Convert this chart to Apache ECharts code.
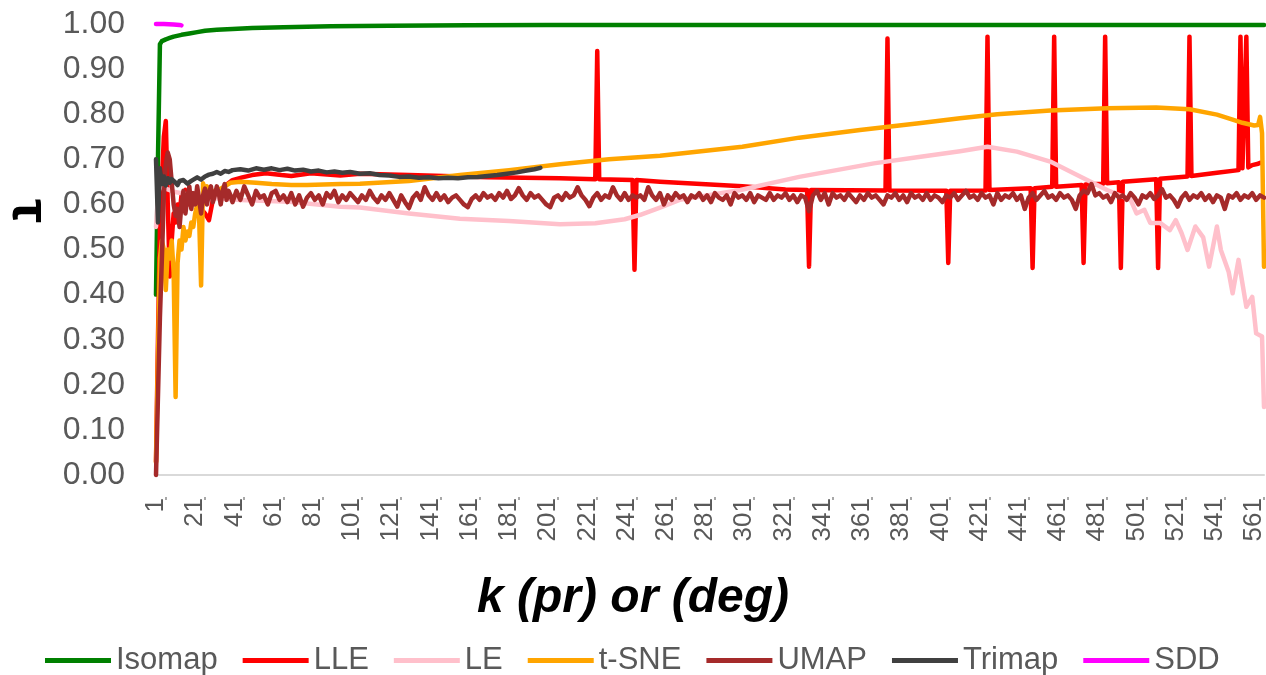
<!DOCTYPE html>
<html>
<head>
<meta charset="utf-8">
<script src="https://cdn.jsdelivr.net/npm/echarts@6/dist/echarts.min.js"></script>
<style>
html,body{margin:0;padding:0;background:#fff;}
#chart{width:1266px;height:675px;}
</style>
</head>
<body>
<div id="chart"></div>
<script>
// ---------- DATA ----------
const kCount = 566;
const categories = [];
for (let k = 1; k <= kCount; k++) categories.push(String(k));

const yTicks = [0, 0.1, 0.2, 0.3, 0.4, 0.5, 0.6, 0.7, 0.8, 0.9, 1.0];
const seriesNames = ['Isomap', 'LLE', 'LE', 't-SNE', 'UMAP', 'Trimap', 'SDD'];
const seriesColors = ['#008000', '#ff0000', '#ffc0cb', '#ffa500', '#a52a2a', '#404040', '#ff00ff'];

// [k, tau]
const isomap = [[1,0.40],[2,0.70],[3,0.955],[4,0.962],[6,0.966],[8,0.969],[10,0.972],[14,0.976],[18,0.979],
  [22,0.982],[26,0.985],[32,0.987],[40,0.989],[50,0.991],[66,0.993],[90,0.995],[120,0.996],[160,0.997],[200,0.998],[566,0.998]];

const lle = [[1,0.03],[2,0.30],[3,0.55],[4,0.65],[5,0.75],[6,0.785],[7,0.60],[8,0.44],[9,0.52],[10,0.58],[11,0.56],
  [12,0.60],[13,0.58],[14,0.62],[16,0.632],[18,0.60],[20,0.61],[22,0.60],[24,0.59],[26,0.58],[28,0.565],[30,0.61],
  [33,0.625],[36,0.64],[40,0.654],[45,0.66],[50,0.665],[57,0.669],[65,0.665],[70,0.663],[80,0.669],[95,0.664],
  [105,0.668],[130,0.665],[170,0.66],[207,0.658],[225,0.656],[226,0.94],[227,0.656],[244,0.654],[245,0.455],
  [246,0.654],[258,0.65],[300,0.64],[322,0.633],[333,0.632],[334,0.462],[335,0.632],[373,0.631],[374,0.968],
  [375,0.631],[404,0.630],[405,0.47],[406,0.630],[424,0.631],[425,0.972],[426,0.632],[447,0.636],[448,0.459],
  [449,0.636],[458,0.639],[459,0.972],[460,0.639],[473,0.643],[474,0.47],[475,0.644],[484,0.646],[485,0.972],
  [486,0.647],[492,0.649],[493,0.459],[494,0.650],[511,0.656],[512,0.459],[513,0.657],[527,0.662],[528,0.972],
  [529,0.663],[542,0.670],[553,0.676],[554,0.972],[555,0.68],[556,0.68],[557,0.972],[558,0.682],[560,0.687],
  [563,0.690],[564,0.692]];

const le = [[1,0.55],[2,0.62],[3,0.64],[6,0.635],[10,0.628],[20,0.62],[30,0.614],[44,0.61],[69,0.606],[95,0.595],
  [105,0.593],[130,0.580],[156,0.568],[181,0.563],[207,0.556],[225,0.558],[240,0.567],[248,0.577],[258,0.593],
  [268,0.61],[299,0.632],[329,0.661],[367,0.691],[390,0.705],[411,0.718],[425,0.728],[440,0.717],[457,0.695],
  [474,0.658],[486,0.632],[498,0.61],[501,0.58],[505,0.588],[508,0.559],[513,0.559],[518,0.543],[521,0.565],
  [524,0.536],[527,0.499],[531,0.551],[535,0.527],[538,0.462],[542,0.551],[544,0.499],[548,0.45],[550,0.403],
  [553,0.477],[557,0.373],[560,0.395],[562,0.314],[565,0.307],[566,0.151]];

const tsne = [[1,0.027],[2,0.26],[3,0.48],[4,0.52],[5,0.50],[6,0.41],[7,0.50],[8,0.48],[9,0.52],[10,0.45],
  [11,0.173],[12,0.47],[13,0.52],[14,0.50],[15,0.55],[16,0.52],[17,0.54],[18,0.53],[19,0.56],[20,0.55],[21,0.58],
  [22,0.60],[23,0.57],[24,0.42],[25,0.647],[26,0.63],[27,0.64],[28,0.62],[29,0.617],[30,0.63],[32,0.625],
  [34,0.635],[36,0.64],[39,0.648],[44,0.65],[52,0.648],[60,0.645],[70,0.643],[78,0.643],[95,0.645],[105,0.646],
  [130,0.652],[156,0.665],[181,0.676],[207,0.689],[232,0.70],[258,0.708],[300,0.728],[329,0.748],[360,0.765],
  [390,0.78],[411,0.791],[430,0.80],[457,0.808],[486,0.813],[511,0.815],[528,0.811],[542,0.799],[550,0.788],
  [555,0.781],[561,0.775],[563,0.776],[564,0.794],[565,0.758],[566,0.462]];

const umapHead = [[1,0],[2,0],[3,0.35],[4,0.48],[5,0.62],[6,0.69],[7,0.715],[8,0.70],[9,0.65],[10,0.60],
  [11,0.575],[12,0.59],[13,0.55],[14,0.60],[15,0.63],[16,0.58],[17,0.615],[18,0.64],[19,0.59],[20,0.625],
  [21,0.60],[22,0.64],[23,0.61],[24,0.58],[25,0.62],[26,0.635],[27,0.60],[28,0.625],[29,0.64],[30,0.605],
  [31,0.62],[32,0.64],[33,0.625],[34,0.60],[35,0.63],[36,0.645],[37,0.61],[38,0.63],[39,0.62],[40,0.605]];
// UMAP from k = 42 to 566, every 2nd k
const umapTailStartK = 42;
const umapTailStepK = 2;
const umapTail = [
  0.63,0.61,0.64,0.62,0.60,0.63,0.615,0.62,0.60,0.625,0.63,0.61,0.62,0.605,0.625,0.60,0.62,0.595,0.615,0.625,
  0.61,0.62,0.60,0.625,0.615,0.63,0.605,0.62,0.61,0.625,0.615,0.605,0.62,0.61,0.63,0.615,0.605,0.62,0.61,0.625,
  0.61,0.595,0.62,0.605,0.592,0.615,0.625,0.61,0.638,0.62,0.61,0.625,0.61,0.62,0.605,0.615,0.62,0.61,0.60,0.594,
  0.612,0.62,0.61,0.625,0.615,0.62,0.61,0.625,0.615,0.63,0.612,0.62,0.636,0.62,0.61,0.625,0.615,0.62,0.61,0.60,
  0.594,0.615,0.62,0.61,0.625,0.615,0.62,0.638,0.62,0.61,0.596,0.615,0.625,0.61,0.62,0.615,0.638,0.62,0.61,0.625,
  0.61,0.62,0.615,0.62,0.61,0.638,0.62,0.61,0.625,0.60,0.62,0.61,0.625,0.615,0.62,0.605,0.62,0.615,0.625,0.61,
  0.62,0.605,0.625,0.615,0.61,0.62,0.60,0.625,0.615,0.62,0.61,0.625,0.605,0.62,0.615,0.61,0.625,0.61,0.62,0.615,
  0.625,0.61,0.62,0.605,0.62,0.615,0.585,0.62,0.63,0.61,0.625,0.60,0.625,0.615,0.62,0.61,0.625,0.615,0.605,0.62,
  0.61,0.625,0.615,0.62,0.61,0.60,0.62,0.615,0.625,0.61,0.62,0.605,0.625,0.615,0.62,0.61,0.625,0.61,0.62,0.615,
  0.605,0.62,0.615,0.625,0.61,0.62,0.63,0.615,0.62,0.61,0.625,0.615,0.62,0.60,0.625,0.61,0.62,0.615,0.625,0.61,
  0.62,0.59,0.615,0.625,0.61,0.62,0.63,0.615,0.62,0.61,0.625,0.615,0.62,0.61,0.59,0.62,0.63,0.625,0.645,0.62,
  0.625,0.615,0.62,0.605,0.625,0.615,0.62,0.61,0.625,0.615,0.60,0.62,0.615,0.625,0.612,0.62,0.634,0.615,0.62,0.61,
  0.595,0.615,0.625,0.61,0.62,0.615,0.625,0.61,0.62,0.605,0.62,0.615,0.59,0.62,0.615,0.625,0.61,0.62,0.615,0.625,
  0.61,0.62,0.615];

const trimap = [[1,0.70],[2,0.56],[3,0.68],[4,0.645],[5,0.662],[6,0.642],[7,0.658],[8,0.648],[9,0.656],[10,0.652],
  [11,0.648],[12,0.643],[13,0.652],[14,0.648],[15,0.654],[16,0.650],[17,0.646],[18,0.643],[19,0.652],[20,0.655],
  [22,0.66],[24,0.655],[26,0.662],[28,0.666],[30,0.668],[32,0.672],[34,0.668],[36,0.674],[38,0.672],[40,0.676],
  [44,0.678],[48,0.675],[52,0.68],[56,0.677],[60,0.68],[64,0.676],[68,0.679],[72,0.675],[76,0.677],[80,0.673],
  [84,0.675],[88,0.671],[92,0.673],[96,0.67],[100,0.672],[105,0.668],[110,0.669],[115,0.665],[120,0.664],
  [125,0.661],[130,0.662],[135,0.659],[140,0.66],[145,0.658],[150,0.659],[155,0.658],[160,0.66],[165,0.661],
  [170,0.663],[175,0.665],[180,0.668],[185,0.671],[190,0.675],[194,0.678],[197,0.681]];

const sdd = [[1,1.0],[5,1.0],[10,0.999],[13,0.998],[14,0.997]];

// ---------- BUILD ----------
function toIdx(pairs) { return pairs.map(p => [p[0] - 1, p[1]]); }
const umap = umapHead.concat(umapTail.map((v, i) => [umapTailStartK + i * umapTailStepK, v]));
const seriesData = [isomap, lle, le, tsne, umap, trimap, sdd];

const chart = echarts.init(document.getElementById('chart'), null, {renderer: 'canvas'});
const FONT = '"Liberation Sans", Arial, sans-serif';

const option = {
  backgroundColor: '#ffffff',
  animation: false,
  textStyle: {fontFamily: FONT},
  title: {
    text: 'k (pr) or (deg)',
    left: 'center',
    top: 570,
    textStyle: {fontFamily: FONT, fontSize: 48, fontWeight: 'bold', fontStyle: 'italic', color: '#000000'}
  },
  graphic: [{
    type: 'text',
    x: 28, y: 211,
    rotation: -Math.PI / 2,
    style: {
      text: 'τ', fontFamily: FONT, fontSize: 54, fontWeight: 'bold', fill: '#000000',
      align: 'center', verticalAlign: 'middle', textAlign: 'center', textVerticalAlign: 'middle'
    }
  }],
  legend: {
    data: seriesNames,
    left: 40,
    top: 640,
    icon: 'rect',
    itemWidth: 66,
    itemHeight: 5,
    itemGap: 25,
    textStyle: {fontFamily: FONT, fontSize: 31, color: '#595959'}
  },
  grid: {left: 156, right: 2, top: 24, bottom: 200, outerBoundsMode: 'none', containLabel: false},
  xAxis: [{
    type: 'category',
    data: categories,
    boundaryGap: false,
    axisLine: {show: true, lineStyle: {color: '#d9d9d9', width: 2}},
    axisTick: {show: false},
    axisLabel: {interval: 19, rotate: 90, margin: 23, fontFamily: FONT, fontSize: 26, color: '#595959'},
    splitLine: {show: false}
  }, {
    type: 'category',
    data: categories,
    boundaryGap: false,
    position: 'bottom',
    offset: 22,
    axisLine: {show: false},
    axisLabel: {show: false},
    axisTick: {show: true, interval: (i) => (i - 5) % 20 === 0, length: 3, lineStyle: {color: '#8c8c8c', width: 1.5}},
    splitLine: {show: false}
  }],
  yAxis: {
    type: 'value',
    min: yTicks[0],
    max: yTicks[yTicks.length - 1],
    interval: 0.1,
    axisLine: {show: false},
    axisTick: {show: false},
    splitLine: {show: false},
    axisLabel: {margin: 31, fontFamily: FONT, fontSize: 32, color: '#595959', formatter: v => v.toFixed(2)}
  },
  series: seriesNames.map((name, i) => ({
    name: name,
    type: 'line',
    xAxisIndex: 0,
    data: toIdx(seriesData[i]),
    showSymbol: false,
    symbol: 'none',
    clip: false,
    lineStyle: {color: seriesColors[i], width: 4.5, join: 'round', cap: 'round'},
    itemStyle: {color: seriesColors[i]},
    emphasis: {disabled: true}
  }))
};
chart.setOption(option);
</script>
</body>
</html>
